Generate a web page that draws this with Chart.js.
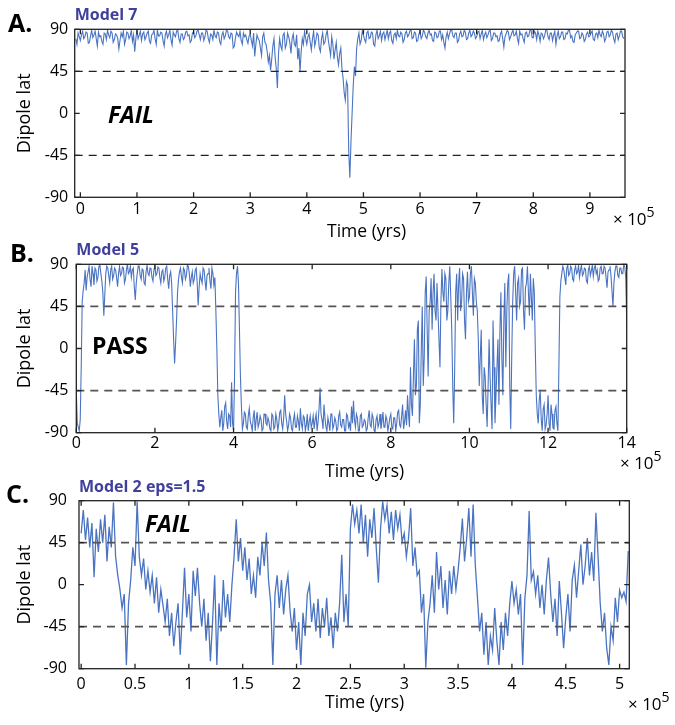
<!DOCTYPE html>
<html><head><meta charset="utf-8">
<script src="https://cdn.jsdelivr.net/npm/chart.js@4/dist/chart.umd.min.js"></script>
<style>
html,body{margin:0;padding:0;background:#fff;}
#wrap{position:relative;width:675px;height:725px;overflow:hidden;font-family:'Open Sans',sans-serif;background:#fff;}
canvas{position:absolute;left:0;}
.lbl{position:absolute;white-space:nowrap;line-height:1;color:#000;}
.panel{font-weight:700;font-size:25px;}
.verdict{font-weight:700;font-size:23px;}
.it{font-style:italic;}
.xt{font-size:17.5px;}
.exp{font-size:17px;}
.exp span{font-size:14px;position:relative;top:-8px;}
</style></head><body><div id="wrap">
<canvas id="cA" width="675" height="245" style="top:0px"></canvas>
<canvas id="cB" width="675" height="240" style="top:238px"></canvas>
<canvas id="cC" width="675" height="249" style="top:476px"></canvas>
<div class="lbl panel" style="left:8px;top:10px">A.</div>
<div class="lbl panel" style="left:10px;top:240px">B.</div>
<div class="lbl panel" style="left:6px;top:481px">C.</div>
<div class="lbl verdict it" style="left:108px;top:103px">FAIL</div>
<div class="lbl verdict" style="left:92px;top:334px">PASS</div>
<div class="lbl verdict it" style="left:145px;top:512px">FAIL</div>
<div class="lbl xt" style="left:327px;top:222px">Time (yrs)</div>
<div class="lbl xt" style="left:325px;top:462px">Time (yrs)</div>
<div class="lbl xt" style="left:325px;top:693px">Time (yrs)</div>
<div class="lbl exp" style="left:613px;top:210px">× 10<span>5</span></div>
<div class="lbl exp" style="left:620px;top:454px">× 10<span>5</span></div>
<div class="lbl exp" style="left:628px;top:695px">× 10<span>5</span></div>
</div>
<script>
// ---- data (time in units of 1e5 yrs, dipole latitude in degrees) ----
const yTicks = [-90, -45, 0, 45, 90];
const dashLevels = [-45, 45];
const xTicksA = [0, 1, 2, 3, 4, 5, 6, 7, 8, 9];
const xTicksB = [0, 2, 4, 6, 8, 10, 12, 14];
const xTicksC = [0, 0.5, 1, 1.5, 2, 2.5, 3, 3.5, 4, 4.5, 5];
const titleA = 'Model 7';
const titleB = 'Model 5';
const titleC = 'Model 2 eps=1.5';

// Model 7: samples every 0.02e5 yrs starting at -0.08e5
const startA = -0.08, stepA = 0.02;
const latA = [
  80, 74, 86, 82,
  78,84, 88,80, 82,87, 86,75, 76,83, 89,81, 84,88, 80,72, 87,82, 83,77, 74,86, 85,79, 89,84, 81,88, 86,76, 79,85, 84,80, 69,78, 86,82, 88,74, 79,87, 86,80, 83,89, 77,84, 66,80,
  89,80, 84,88, 78,85, 87,79, 82,86, 88,77, 75,84, 85,89, 80,74, 89,83, 83,87, 86,78, 72,84, 88,81, 84,89, 79,73, 87,84, 82,88, 89,80, 76,85, 85,79, 81,87, 88,83, 84,76, 78,86,
  87,81, 83,88, 89,84, 79,86, 86,78, 82,89, 88,80, 76,85, 84,79, 89,83, 81,87, 86,77, 74,84, 87,80, 83,89, 88,82, 80,86, 85,70, 72,81, 87,84, 82,88, 78,74, 86,82, 84,79, 75,83,
  85,78, 72,86, 61,74, 84,80, 78,70, 62,82, 86,76, 74,66, 55,62, 46,58, 72,80, 60,48, 27,64, 80,72, 68,84, 86,70, 74,86, 82,76, 64,80, 85,74, 72,84, 58,70, 44,66, 80,74, 88,80,
  74,82, 85,76, 68,80, 88,72, 78,86, 84,70, 66,80, 86,74, 76,84, 89,78, 70,62, 82,74, 58,68, 76,60, 52,64, 70,48, 38,22, 14,34, 30,-40, -69,-30, 0,30, 50,40, 70,80, 86,74, 78,88,
  84,79, 76,86, 88,80, 81,87, 86,74, 72,84, 89,80, 83,88, 78,85, 87,79, 84,89, 80,86, 88,78, 75,84, 86,80, 89,83, 82,87, 85,76, 79,86, 88,82, 84,88, 90,80, 81,87, 86,77, 78,85,
  88,80, 83,89, 87,82, 80,86, 89,84, 85,78, 77,87, 86,81, 82,88, 88,79, 84,76, 70,82, 87,80, 85,89, 89,83, 81,86, 86,76, 78,85, 88,82, 83,89, 87,79, 80,86, 89,82, 84,88, 86,80,
  82,87, 88,80, 85,89, 79,84, 87,81, 84,88, 89,78, 80,86, 86,82, 83,77, 78,85, 88,80, 71,82, 85,89, 87,79, 82,86, 89,83, 84,88, 80,75, 88,84, 85,80, 76,86, 87,82, 83,89, 89,81,
  81,88, 86,79, 88,84, 77,86, 85,80, 83,89, 89,82, 79,86, 86,78, 84,88, 74,83, 88,80, 82,87, 87,79, 80,86, 85,89, 89,81, 83,77, 76,84, 86,88, 88,80, 81,86, 84,77, 79,85, 87,82,
  83,86, 88,79, 78,85, 86,81, 89,84, 82,88, 85,77, 80,87, 88,82, 84,89, 87,80, 76,85, 86,79, 83,88, 88,82, 80
];

// Model 5: samples every 0.025e5 yrs starting at 0
const startB = 0, stepB = 0.025;
const latB = [
  -45,-80, -84,-88, -76,-20, 50,62, 70,84, 62,76, 82,88, 74,66, 88,80, 68,86, 84,72, 76,88, 89,80, 72,60, 35,58, 80,88, 86,78, 70,84, 88,74, 78,86,
  84,76, 66,80, 88,78, 80,87, 86,70, 74,84, 90,80, 82,88, 76,84, 86,66, 52,70, 80,88, 88,78, 74,85, 84,70, 68,82, 89,80, 78,86, 85,76, 72,84,
  88,78, 80,87, 86,76, 70,82, 84,72, 76,86, 88,74, 64,78, 82,70, 40,10, -16,5, 30,60, 74,82, 86,76, 70,86, 84,74, 78,89, 88,80, 66,76, 82,70,
  74,84, 86,70, 46,66, 80,74, 70,86, 84,72, 62,78, 80,86, 72,64, 86,80, 68,76, 40,0, -50,-70, -84,-74, -66,-88, -80,-62, -58,-78, -86,-70, -72,-84, -36,-80,
  -88,-30, 60,80, 88,70, 20,-30, -62,-86, -80,-68, -70,-84, -86,-72, -64,-78, -82,-88, -74,-66, -88,-76, -68,-84, -80,-72, -76,-88, -86,-70, -70,-80, -82,-74, -78,-86, -88,-70,
  -72,-86, -84,-70, -76,-88, -80,-68, -66,-80, -86,-74, -50,-70, -78,-88, -82,-70, -74,-86, -88,-76, -70,-84, -84,-72, -78,-88, -64,-80, -86,-72, -74,-88, -82,-70, -88,-78, -72,-84,
  -80,-72, -86,-76, -70,-88, -78,-64, -42,-70, -76,-86, -60,-74, -84,-88, -74,-80, -88,-70, -70,-86, -82,-74, -78,-88, -86,-72, -68,-82, -84,-76, -76,-88, -88,-70, -72,-84, -80,-88,
  -62,-80, -56,-76, -84,-70, -74,-88, -88,-72, -70,-84, -82,-76, -78,-88, -86,-74, -66,-82, -84,-70, -74,-88, -89,-76, -72,-84, -80,-70, -86,-78, -68,-84, -84,-72, -76,-88, -82,-74,
  -70,-84, -86,-74, -74,-88, -80,-68, -66,-82, -84,-72, -60,-86, -78,-66, -82,-50, -70,-84, -20,-60, -72,-30, 10,-50, -40,20, 30,-80, -60,0, 45,-40, -10,60, 77,20, -30,40,
  50,75, 20,60, 80,40, 30,70, 70,10, -20,50, 85,60, 50,80, 75,30, 40,70, 88,55, 20,-40, -80,-20, 60,80, 30,70, 86,40, 50,80, 75,30, 10,60, 82,50,
  55,80, 88,60, 35,75, 70,50, 40,10, -40,-10, 20,-50, -70,-20, -30,-60, -84,-40, 10,-30, -60,-86, 30,-20, -80,-50, -20,10, -60,20, 60,-10, -50,30, 70,-20, 40,70,
  80,-40, -86,-10, 50,80, 88,60, 30,70, 75,45, 50,84, 86,40, 20,65, 70,88, 60,35, 80,55, 30,75, 60,0, -50,-70, -80,-55, -45,-75, -88,-65, -60,-86, -82,-70,
  -50,-80, -88,-60, -70,-85, -86,-66, -62,-80, -88,-20, 55,72, 80,88, 84,76, 68,86, 89,78, 80,88, 86,74, 72,84, 88,80, 82,89, 76,84, 89,78, 80,86, 85,72,
  70,84, 88,78, 83,89, 77,86, 89,80, 84,72, 74,86, 88,80, 80,88, 86,76, 65,82, 84,88, 78,62, 45,70, 82,88, 88,78, 76,86, 86,80, 80,89, 88,76,
  30
];

// Model 2 eps=1.5: samples every 0.02e5 yrs starting at 0
const startC = 0, stepC = 0.02;
const latC = [
  55, 80, 48, 72, 40, 66, 8, 60, 35, 70, 45, 75, 25, 62, 40, 88, 30, 10, -5, -25, -10, -86, -20, 5, 40,
  20, 89, 30, 10, 28, -5, 15, -8, 10, -20, 8, -30, -5, -22, -40, -15, -55, -30, -66, -40, -20, -75, -30, 18, -35,
  -10, -50, 15, -12, 18, -20, -45, -15, -60, -30, -82, -40, 10, -86, -20, -50, 5, -35, -10, -40, 0, 30, 70, 25, 50,
  15, 40, 5, 28, -10, 10, -14, 30, 10, 45, 20, 56, 5, -20, -86, -10, 10, -25, 5, -32, -5, 10, -28, -50, -25,
  -70, -40, -86, -30, -55, -10, 0, -40, -20, -50, -15, -57, -25, -45, -14, -55, -35, -68, -30, -50, -20, 32, -40, -10, -45,
  60, 86, 65, 80, 55, 86, 45, 75, 30, 70, 50, 82, 40, 2, 60, 89, 70, 85, 55, 78, 48, 80, 60, 75, 46,
  55, 30, 50, 82, 20, 40, 10, 15, -30, -10, -89, -40, -20, 10, -30, 35, -5, 20, -25, 5, -32, 15, -10, 20, -5,
  15, 40, 71, 25, 50, 82, 30, 86, 21, -14, -50, -30, -75, -40, -86, -55, -70, -25, -60, -86, -40, -70, -30, -55, -20,
  4, -20, -5, -32, -10, -86, -15, 10, 79, 5, 14, -10, 10, -25, 0, -32, 5, 29, -10, -40, -15, -55, 4, -30, -68,
  -35, -10, -50, 5, 21, -14, 15, 43, 0, 20, 50, 10, 35, 4, 77, 30, -20, -50, -30, -68, -86, -45, -60, -14, -40,
  -6, -14, -8, -18, 36
];

// ---- rendering ----
Chart.defaults.font.family = "'Open Sans', sans-serif";
Chart.defaults.color = '#000';

function toPoints(start, step, vals) {
  return vals.map((v, i) => ({ x: +(start + i * step).toFixed(4), y: v }));
}

const framePlugin = {
  id: 'frame',
  afterDatasetsDraw(chart, args, o) {
    const { ctx, chartArea: { left, right, top, bottom }, scales: { x, y } } = chart;
    ctx.save();
    ctx.setLineDash(o.dash);
    ctx.strokeStyle = o.dashColor;
    ctx.lineWidth = o.dashWidth;
    for (const v of dashLevels) {
      const py = y.getPixelForValue(v);
      ctx.beginPath(); ctx.moveTo(left, py); ctx.lineTo(right, py); ctx.stroke();
    }
    ctx.setLineDash([]);
    ctx.strokeStyle = o.frameColor;
    ctx.lineWidth = o.frameWidth;
    ctx.strokeRect(left, top, right - left, bottom - top);
    const tl = 5;
    ctx.beginPath();
    for (const t of x.ticks) {
      const px = x.getPixelForValue(t.value);
      ctx.moveTo(px, bottom); ctx.lineTo(px, bottom - tl);
      ctx.moveTo(px, top); ctx.lineTo(px, top + tl);
    }
    for (const t of y.ticks) {
      const py = y.getPixelForValue(t.value);
      ctx.moveTo(left, py); ctx.lineTo(left + tl, py);
      ctx.moveTo(right, py); ctx.lineTo(right - tl, py);
    }
    ctx.stroke();
    ctx.restore();
  }
};

function makeChart(id, g) {
  return new Chart(document.getElementById(id), {
    type: 'line',
    data: { datasets: [{
      data: toPoints(g.start, g.step, g.vals),
      borderColor: '#4a74c2', borderWidth: g.lw, pointRadius: 0, tension: 0, fill: false
    }] },
    options: {
      responsive: false, maintainAspectRatio: false, animation: false, devicePixelRatio: 1,
      layout: { padding: { left: 0, right: 675 - g.right, top: 0, bottom: 0 } },
      plugins: {
        legend: { display: false }, tooltip: { enabled: false },
        title: { display: true, text: g.title, align: 'start', fullSize: false, color: '#40409c',
          font: { size: 16, weight: 'bold' }, padding: { top: g.tpt, bottom: g.tpb } },
        frame: { dash: [8, 6], dashColor: g.dashColor, dashWidth: g.dashWidth, frameColor: '#222', frameWidth: 1.3 }
      },
      scales: {
        x: {
          type: 'linear', min: g.xmin, max: g.xmax,
          afterBuildTicks: s => { s.ticks = g.xticks.map(v => ({ value: v })); },
          afterFit: s => { s.height = g.xh; },
          grid: { display: false, drawTicks: false }, border: { display: false },
          ticks: { padding: g.xpad, font: { size: 16 }, color: '#000', autoSkip: false, maxRotation: 0,
            callback: v => String(v) }
        },
        y: {
          type: 'linear', min: -90, max: 90,
          afterBuildTicks: s => { s.ticks = yTicks.map(v => ({ value: v })); },
          afterFit: s => { s.width = g.left; },
          grid: { display: false, drawTicks: false }, border: { display: false },
          ticks: { padding: g.ypad, font: { size: 16 }, color: '#000', autoSkip: false, callback: v => String(v) },
          title: { display: true, text: 'Dipole lat', font: { size: 18 }, color: '#000', padding: { top: 14.5, bottom: 0 } }
        }
      }
    },
    plugins: [framePlugin]
  });
}

makeChart('cA', { vals: latA, start: startA, step: stepA, title: titleA, xticks: xTicksA, lw: 1.1,
  xmin: -0.1, xmax: 9.62, left: 74.7, right: 625, tpt: 5.9, tpb: 4.2, xh: 47.7, xpad: 3, ypad: 6.5,
  dashColor: '#222', dashWidth: 1.2 });
makeChart('cB', { vals: latB, start: startB, step: stepB, title: titleB, xticks: xTicksB, lw: 1.1,
  xmin: 0, xmax: 14, left: 76.3, right: 626.7, tpt: 2.9, tpb: 4.2, xh: 45.3, xpad: 1, ypad: 8,
  dashColor: '#555', dashWidth: 1.8 });
makeChart('cC', { vals: latC, start: startC, step: stepC, title: titleC, xticks: xTicksC, lw: 1.3,
  xmin: -0.02, xmax: 5.09, left: 79, right: 629.3, tpt: 1.4, tpb: 4.1, xh: 56.3, xpad: 5.7, ypad: 12,
  dashColor: '#555', dashWidth: 1.8 });
</script>
</body></html>
